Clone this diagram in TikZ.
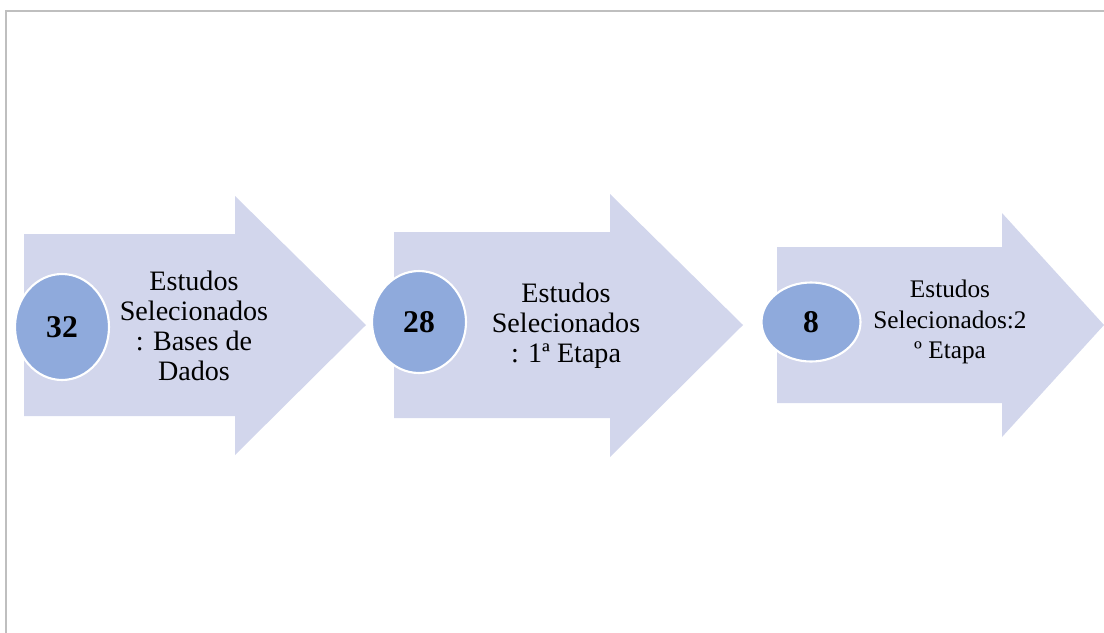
\documentclass[tikz,border=0pt]{standalone}
\usepackage{fontspec}
\setmainfont{Liberation Serif}
\usepackage{tikz}
\usetikzlibrary{shapes.geometric}

\definecolor{arrowfill}{RGB}{210,214,236}
\definecolor{dotfill}{RGB}{143,170,220}
\definecolor{framegray}{RGB}{191,191,191}

\tikzset{
  stagearrow/.style={fill=arrowfill, draw=none},
  countdot/.style={ellipse, fill=dotfill, draw=white, line width=1.2pt,
    inner sep=0pt, font=\fontsize{18}{20}\selectfont\bfseries},
  stagetext/.style={align=center, inner sep=0pt,
    font=\fontsize{16}{17}\selectfont}
}

\begin{document}
\begin{tikzpicture}[x=0.02cm, y=-0.02cm]
  \useasboundingbox (0,0) rectangle (1104,632);

  % frame
  \draw[framegray, line width=1.1pt] (6,640) -- (6,11) -- (1110,11);

  % arrows
  \fill[stagearrow] (24,234) -- (235,234) -- (235,196) -- (366,325)
    -- (235,455) -- (235,416) -- (24,416) -- cycle;
  \fill[stagearrow] (394,232) -- (610,232) -- (610,194) -- (743,325)
    -- (610,457) -- (610,418) -- (394,418) -- cycle;
  \fill[stagearrow] (777,247) -- (1002,247) -- (1002,213) -- (1104,325)
    -- (1002,437) -- (1002,403) -- (777,403) -- cycle;

  % counts
  \node[countdot, minimum width=1.88cm, minimum height=2.12cm] (n32) at (62,327) {32};
  \node[countdot, minimum width=1.88cm, minimum height=2.04cm] (n28) at (419,322) {28};
  \node[countdot, minimum width=1.98cm, minimum height=1.58cm] (n8) at (811,322) {8};

  % labels
  \node[stagetext] (bases) at (194,326) {Estudos\\Selecionados\\: Bases de\\Dados};
  \node[stagetext] (etapa1) at (566,326) {Estudos\\Selecionados\\: 1ª Etapa};
  \node[stagetext, font=\fontsize{14.4}{17.5}\selectfont] (etapa2) at (950,322)
    {Estudos\\Selecionados:2\\º Etapa};
\end{tikzpicture}
\end{document}
